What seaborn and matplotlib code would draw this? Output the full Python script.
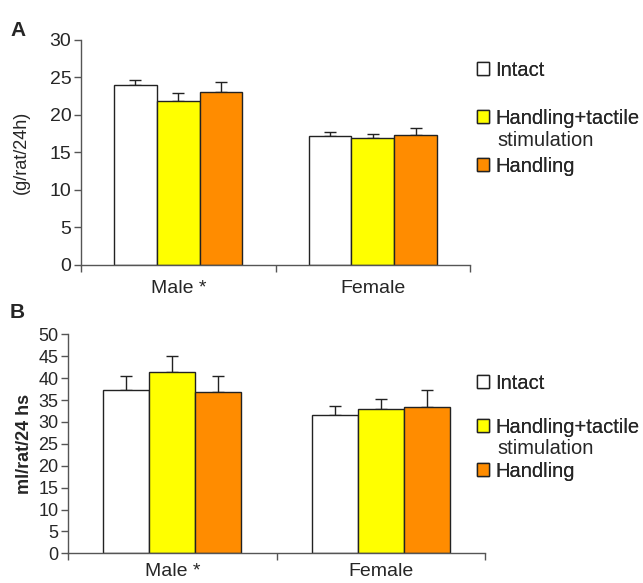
import numpy as np
import pandas as pd
import matplotlib
matplotlib.use('Agg')
import matplotlib.pyplot as plt
from matplotlib.patches import Patch
import seaborn as sns

# ── Data ──────────────────────────────────────────────────────────────────────
SEXES   = ['Male *', 'Female']
GROUPS  = ['Intact', 'Handling+tactile', 'Handling']
COLORS  = ['#FFFFFF', '#FFFF00', '#FF8C00']

# Panel A: food intake (g/rat/24h), mean and SEM (upper bar only)
food_male        = [24.0, 21.8, 23.1]
food_male_err    = [0.7, 1.1, 1.3]
food_female      = [17.2, 16.9, 17.3]
food_female_err  = [0.5, 0.6, 0.9]

# Panel B: water intake (ml/rat/24 hs)
water_male       = [37.3, 41.3, 36.8]
water_male_err   = [3.1, 3.7, 3.7]
water_female     = [31.5, 32.9, 33.3]
water_female_err = [2.1, 2.4, 3.9]

sns.set_style('white')
plt.rcParams['font.family'] = ['Liberation Sans', 'DejaVu Sans']


def make_df(male, male_err, female, female_err):
    return pd.DataFrame({
        'sex':   [SEXES[0]] * 3 + [SEXES[1]] * 3,
        'group': GROUPS * 2,
        'value': male + female,
        'err':   male_err + female_err,
    })


def draw_panel(ax, df, ymax, ystep, ylabel, label_weight, tick_fs,
               ylabelpad, xpad):
    sns.barplot(data=df, x='sex', y='value', hue='group', order=SEXES,
                hue_order=GROUPS, palette=COLORS, saturation=1, width=0.66,
                ax=ax, edgecolor='#222222', linewidth=1.0, errorbar=None,
                legend=False, zorder=2)
    # upward-only error bars
    bars = [p for p in ax.patches if p.get_height() > 0]
    for bar in bars:
        x = bar.get_x() + bar.get_width() / 2
        h = bar.get_height()
        row = df[np.isclose(df['value'], h)].iloc[0]
        ax.errorbar(x, h, yerr=[[0], [row['err']]], fmt='none',
                    ecolor='#222222', elinewidth=1.0, capsize=4,
                    capthick=1.0, zorder=1)

    ax.set_xlim(-0.5, 1.5)
    ax.set_ylim(0, ymax)
    ax.set_yticks(np.arange(0, ymax + 1, ystep))
    ax.set_xticks([0, 1])
    ax.set_xticklabels(SEXES, fontsize=14)
    ax.set_xticks([-0.5, 0.5, 1.5], minor=True)
    ax.tick_params(axis='x', which='major', length=0, pad=xpad)
    ax.tick_params(axis='x', which='minor', length=5, width=1,
                   color='#555555', direction='out', bottom=True)
    ax.tick_params(axis='y', length=5, width=1, color='#555555',
                   direction='out', left=True, labelsize=tick_fs, pad=2)
    ax.set_xlabel('')
    ax.set_ylabel(ylabel, fontsize=13, fontweight=label_weight,
                  labelpad=ylabelpad)
    sns.despine(ax=ax)
    for s in ['left', 'bottom']:
        ax.spines[s].set_color('#555555')
        ax.spines[s].set_linewidth(1.0)


fig = plt.figure(figsize=(6.43, 5.83), dpi=100)
ax_a = fig.add_axes([0.126, 0.5455, 0.605, 0.386])
ax_b = fig.add_axes([0.1058, 0.0509, 0.6485, 0.3756])

df_a = make_df(food_male, food_male_err, food_female, food_female_err)
df_b = make_df(water_male, water_male_err, water_female, water_female_err)

draw_panel(ax_a, df_a, 30, 5, '(g/rat/24h)', 'normal', 14, 14, 11)
draw_panel(ax_b, df_b, 50, 5, 'ml/rat/24 hs', 'bold', 13, 4, 7)

fig.text(10 / 643, 1 - 30 / 583, 'A', fontsize=15, fontweight='bold',
         va='center', ha='left')
fig.text(10 / 643, 1 - 313 / 583, 'B', fontsize=15, fontweight='bold',
         va='center', ha='left')

# legends: (top of first row px, row step px, "stimulation" centre px)
handles = [Patch(facecolor=c, edgecolor='#222222', linewidth=1.0) for c in COLORS]
LEG_FS = 14.5
em_px = LEG_FS * 100 / 72
for top_px, step_px, stim_px in [(61, 49, 140), (374, 45, 448)]:
    leg = fig.legend(handles, GROUPS, loc='upper left',
                     bbox_to_anchor=(477 / 643, 1 - top_px / 583),
                     frameon=False, fontsize=LEG_FS, handlelength=0.62,
                     handleheight=0.62, handletextpad=0.3,
                     labelspacing=(step_px - em_px) / em_px, borderaxespad=0,
                     borderpad=0)
    fig.add_artist(leg)
    fig.text(497 / 643, 1 - stim_px / 583, 'stimulation', fontsize=LEG_FS,
             va='center', ha='left')

fig.savefig('out.png', dpi=100)
